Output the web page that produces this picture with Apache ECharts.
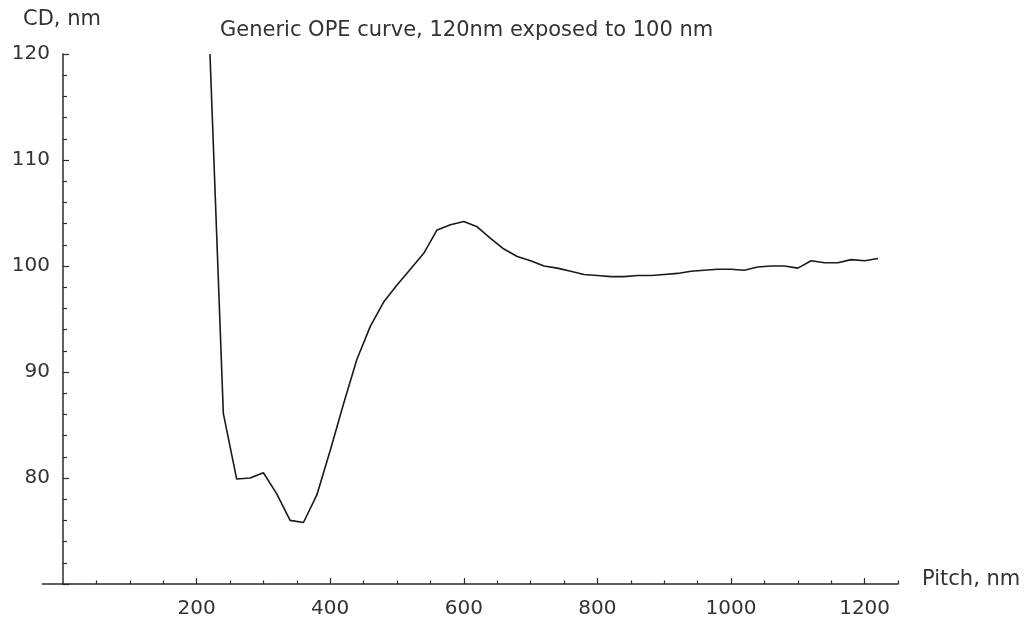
<!DOCTYPE html>
<html>
<head>
<meta charset="utf-8">
<title>Generic OPE curve</title>
<script src="https://cdn.jsdelivr.net/npm/echarts@6/dist/echarts.min.js"></script>
<style>
  html, body { margin: 0; padding: 0; background: #fff; }
  #chart { width: 1024px; height: 624px; }
</style>
</head>
<body>
<div id="chart"></div>
<script>
// Pitch (nm) of each simulated line/space pair
const pitch = [
  220, 240, 260, 280, 300, 320, 340, 360, 380, 400,
  420, 440, 460, 480, 500, 520, 540, 560, 580, 600,
  620, 640, 660, 680, 700, 720, 740, 760, 780, 800,
  820, 840, 860, 880, 900, 920, 940, 960, 980, 1000,
  1020, 1040, 1060, 1080, 1100, 1120, 1140, 1160, 1180, 1200, 1220
];
// Printed CD (nm) at each pitch
const cd = [
  120.0, 86.1, 79.9, 80.0, 80.5, 78.5, 76.0, 75.8, 78.4, 82.6,
  87.0, 91.2, 94.3, 96.6, 98.2, 99.7, 101.2, 103.4, 103.9, 104.2,
  103.7, 102.6, 101.6, 100.9, 100.5, 100.0, 99.8, 99.5, 99.2, 99.1,
  99.0, 99.0, 99.1, 99.1, 99.2, 99.3, 99.5, 99.6, 99.7, 99.7,
  99.6, 99.9, 100.0, 100.0, 99.8, 100.5, 100.3, 100.3, 100.6, 100.5, 100.7
];
// Axis tick labels
const xTickLabels = [200, 400, 600, 800, 1000, 1200];
const yTickLabels = [80, 90, 100, 110, 120];
const xMinorTicks = [];
for (let v = 50; v <= 1250; v += 50) if (v % 200 !== 0) xMinorTicks.push(v);

const FONT = 'DejaVu Sans';
const INK = '#1a1a1a';
const AXIS = '#2a2a2a';
const TEXT = '#333';
const GRID = { left: 63, right: 126, top: 54, bottom: 40 };

const chart = echarts.init(document.getElementById('chart'), null, { renderer: 'canvas' });

const baseX = {
  type: 'value', min: 0, max: 1250, position: 'bottom',
  splitLine: { show: false }
};

chart.setOption({
  animation: false,
  backgroundColor: '#fff',
  grid: Object.assign({ outerBoundsMode: 'none', containLabel: false }, GRID),
  xAxis: [
    Object.assign({}, baseX, {
      axisLine: { show: true, lineStyle: { color: AXIS, width: 1.5 } },
      axisTick: { show: true, inside: true, length: 6, customValues: xTickLabels,
                  lineStyle: { color: AXIS, width: 1.2 } },
      axisLabel: { show: true, customValues: xTickLabels, margin: 15,
                   formatter: v => String(v),
                   color: TEXT, fontFamily: FONT, fontSize: 20 }
    }),
    Object.assign({}, baseX, {
      axisLine: { show: false },
      axisTick: { show: true, inside: true, length: 3.5, customValues: xMinorTicks,
                  lineStyle: { color: AXIS, width: 1.2 } },
      axisLabel: { show: false }
    })
  ],
  yAxis: {
    type: 'value', min: 70, max: 120, interval: 10,
    axisLine: { show: true, lineStyle: { color: AXIS, width: 1.5 } },
    axisTick: { show: true, inside: true, length: 6, lineStyle: { color: AXIS, width: 1.2 } },
    minorTick: { show: true, splitNumber: 5, length: 4, lineStyle: { color: AXIS, width: 1.2 } },
    splitLine: { show: false },
    minorSplitLine: { show: false },
    axisLabel: { show: true, customValues: yTickLabels, margin: 13,
                 formatter: v => String(v),
                 color: TEXT, fontFamily: FONT, fontSize: 20 }
  },
  graphic: [
    { type: 'text', left: 220, top: 20,
      style: { text: 'Generic OPE curve, 120nm exposed to 100 nm', fill: TEXT,
               font: '21px "' + FONT + '"' } },
    { type: 'text', left: 23, top: 9,
      style: { text: 'CD, nm', fill: TEXT, font: '21px "' + FONT + '"' } },
    { type: 'text', left: 922, top: 569,
      style: { text: 'Pitch, nm', fill: TEXT, font: '21px "' + FONT + '"' } },
    // short stub of the horizontal axis reaching left past the vertical axis
    { type: 'line', shape: { x1: GRID.left - 21, y1: 624 - GRID.bottom, x2: GRID.left, y2: 624 - GRID.bottom },
      style: { stroke: AXIS, lineWidth: 1.5 } }
  ],
  series: [{
    type: 'line',
    xAxisIndex: 0,
    data: pitch.map((p, i) => [p, cd[i]]),
    showSymbol: false,
    clip: true,
    lineStyle: { color: INK, width: 1.6 }
  }]
});
</script>
</body>
</html>
